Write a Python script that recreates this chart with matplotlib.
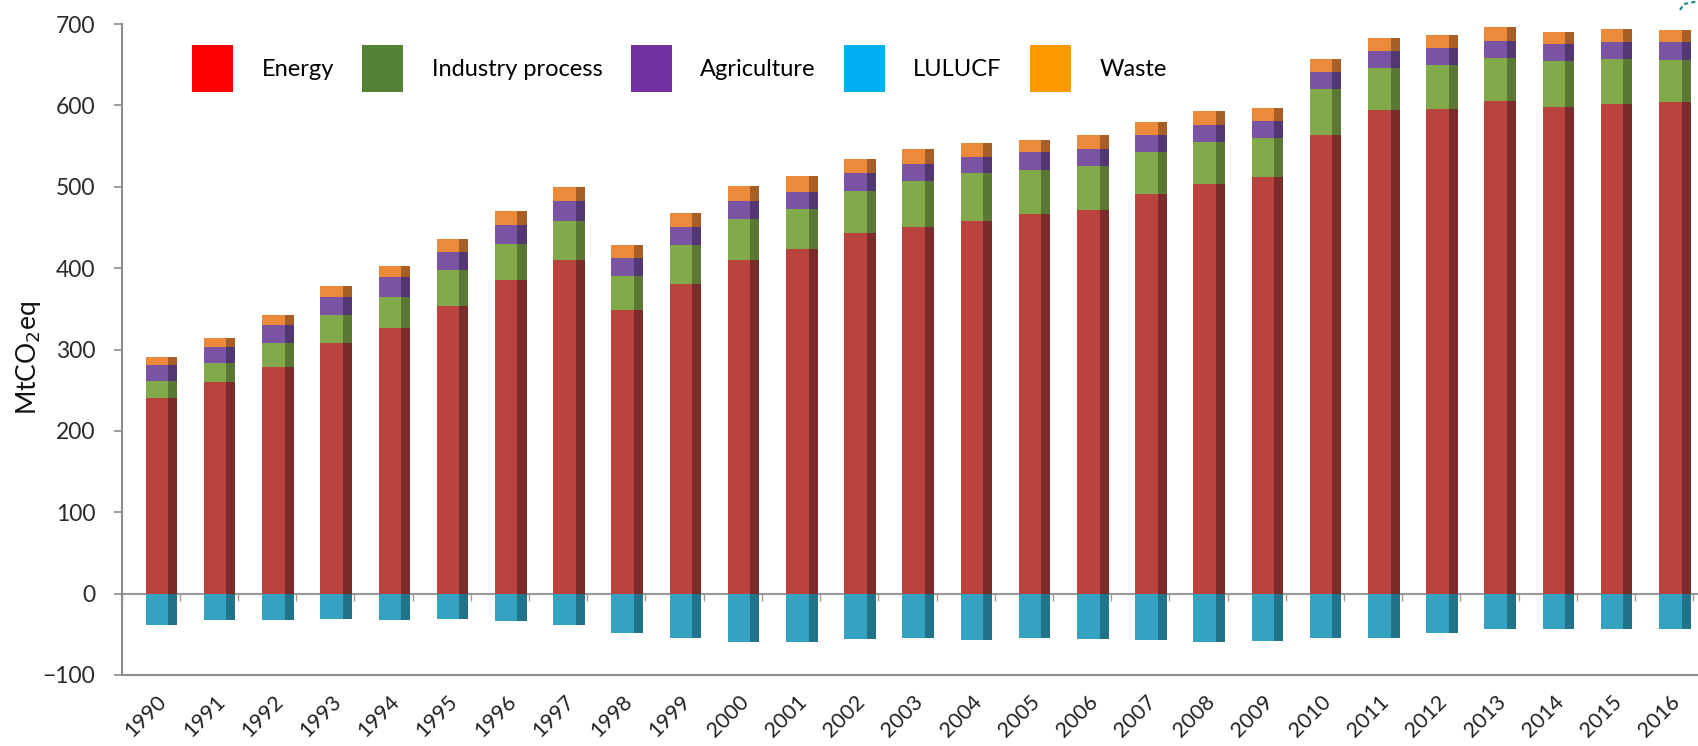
import matplotlib
matplotlib.use("Agg")
import matplotlib.pyplot as plt
import numpy as np
from matplotlib.patches import Patch
from matplotlib.lines import Line2D

years = [str(y) for y in range(1990, 2017)]
energy = [240, 260, 279, 308, 327, 353, 385, 410, 349, 380, 410, 424, 443, 450,
          458, 466, 472, 491, 504, 512, 564, 594, 596, 606, 598, 602, 604]
industry = [21, 23, 29, 34, 38, 45, 45, 48, 41, 48, 50, 49, 52, 57,
            59, 55, 53, 52, 51, 48, 56, 52, 54, 52, 56, 55, 52]
agriculture = [20, 20.5, 21.5, 22.5, 23.5, 22, 22.5, 24.5, 23, 22.5, 22.5, 20.5, 21.5, 20.5,
               19.5, 21.5, 21.5, 20.5, 21.5, 21, 21.5, 21, 21, 21.5, 21.5, 21, 21.5]
waste = [10, 11, 12.5, 13.5, 14.5, 16, 17.5, 17, 16, 17, 18, 20, 17.5, 18.5,
         17.5, 15.5, 17, 15.5, 16, 16, 15.5, 16, 16, 17, 15, 16, 15.5]
lulucf = [-38, -33, -33, -31, -33, -31, -34, -39, -48, -55, -59, -59, -56, -55,
          -57, -55, -56, -57, -59, -58, -54, -54, -49, -44, -43, -43, -44]

series_names = ["Energy", "Industry process", "Agriculture", "LULUCF", "Waste"]
legend_colors = ["#FF0000", "#548235", "#7030A0", "#00B0F0", "#FF9900"]
front_colors = {"Energy": "#B9443F", "Industry process": "#82AA4A", "Agriculture": "#7A53A2",
                "LULUCF": "#35A2C2", "Waste": "#EC8A3C"}
side_colors = {"Energy": "#7B2B29", "Industry process": "#5A7833", "Agriculture": "#533772",
               "LULUCF": "#21738A", "Waste": "#A85F27"}

plt.rcParams['font.family'] = ['Lato', 'DejaVu Sans']

fig = plt.figure(figsize=(16.99, 7.46), dpi=100)
ax = fig.add_axes([0.0716, 0.0952, 0.9284, 0.8726])

x = np.arange(len(years))
front_off, front_w = -0.086, 0.387
side_off, side_w = 0.301, 0.155

def draw(vals, bottom, name):
    ax.bar(x + front_off, vals, width=front_w, bottom=bottom, align='edge',
           color=front_colors[name], linewidth=0, zorder=2)
    ax.bar(x + side_off, vals, width=side_w, bottom=bottom, align='edge',
           color=side_colors[name], linewidth=0, zorder=2)

bottom = np.zeros(len(years))
for name, vals in [("Energy", energy), ("Industry process", industry),
                   ("Agriculture", agriculture), ("Waste", waste)]:
    draw(vals, bottom, name)
    bottom = bottom + np.array(vals)
draw(lulucf, np.zeros(len(years)), "LULUCF")

ax.set_xlim(-0.5, 26.6)
ax.set_ylim(-100, 700)
ax.set_yticks(range(-100, 701, 100))
ax.tick_params(axis='y', direction='out', length=6, width=1.2, color='#8C8C8C',
               labelsize=16.5, labelcolor='#2A2A2A', pad=13)

ax.set_xticks(x + 0.1)
ax.set_xticklabels(years, rotation=45, ha='right', va='top', rotation_mode='anchor')
ax.tick_params(axis='x', length=0, labelsize=15.5, labelcolor='#222222', pad=12)

for s in ['top', 'right']:
    ax.spines[s].set_visible(False)
for s in ['left', 'bottom']:
    ax.spines[s].set_color('#8C8C8C')
    ax.spines[s].set_linewidth(1.5)

# zero line with category boundary ticks
sec = ax.secondary_xaxis(0.125)
sec.set_xticks(np.arange(-0.5, 26.6, 1.0))
sec.tick_params(axis='x', direction='out', length=5, width=1.0, color='#9A9A9A', labelbottom=False)
sec.spines['bottom'].set_color('#9A9A9A')
sec.spines['bottom'].set_linewidth(1.5)
sec.set_xticklabels([])

ax.set_ylabel("MtCO$_2$eq", fontsize=19, color='#111111')
ax.yaxis.set_label_coords(-0.050, 0.487)

handles = [Patch(facecolor=c, edgecolor='none', label=n) for n, c in zip(series_names, legend_colors)]
fs = 17
leg = fig.legend(handles=handles, loc='upper left', bbox_to_anchor=(192 / 1699, 1 - 45 / 746),
                 ncol=5, frameon=False, fontsize=fs, handlelength=1.74, handleheight=2.68,
                 handletextpad=1.2, columnspacing=1.2, borderpad=0, borderaxespad=0)

# small dashed decoration at the top-right corner
fig.add_artist(Line2D([1680 / 1699, 1684 / 1699, 1699 / 1699], [1 - 10 / 746, 1 - 4 / 746, 1 - 1 / 746],
                      transform=fig.transFigure, color='#1A8A8A', lw=1.5, ls=(0, (2, 1.5))))

fig.savefig("out.png", dpi=100)
